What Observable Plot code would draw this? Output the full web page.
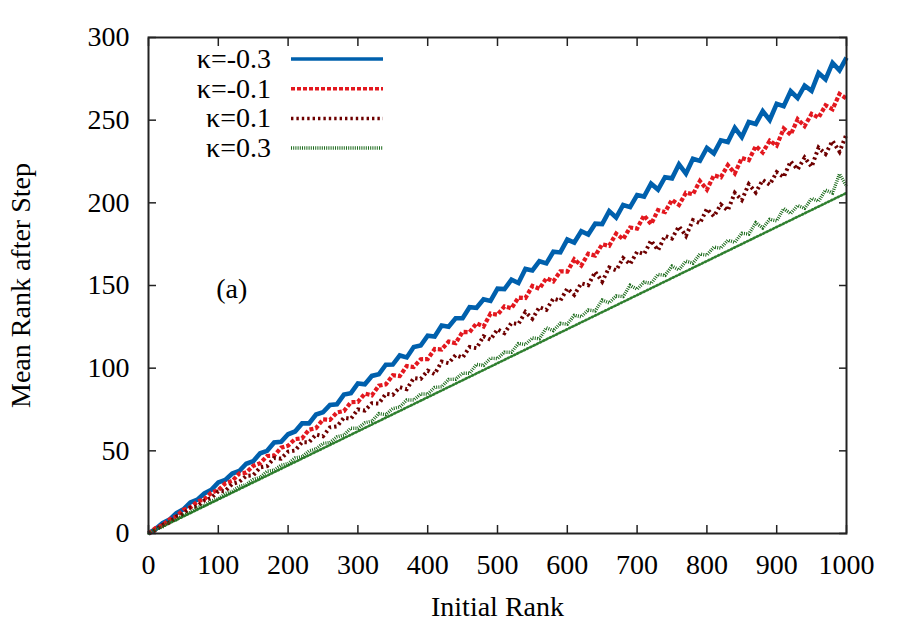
<!DOCTYPE html>
<html><head><meta charset="utf-8">
<script src="https://cdn.jsdelivr.net/npm/d3@7"></script>
<script src="https://cdn.jsdelivr.net/npm/@observablehq/plot@0.6"></script>
<style>
body{margin:0;background:#fff;}
#wrap{width:900px;height:630px;}
</style></head><body><div id="wrap"></div>
<script>
const ranks = [0,10,20,30,40,50,60,70,80,90,100,110,120,130,140,150,160,170,180,190,200,210,220,230,240,250,260,270,280,290,300,310,320,330,340,350,360,370,380,390,400,410,420,430,440,450,460,470,480,490,500,510,520,530,540,550,560,570,580,590,600,610,620,630,640,650,660,670,680,690,700,710,720,730,740,750,760,770,780,790,800,810,820,830,840,850,860,870,880,890,900,910,920,930,940,950,960,970,980,990,1000];

const kappaM03 = [0,2.7,6.3,8.4,12.3,14.6,18.8,20.4,24.3,26.4,
30.9,32.4,36.3,37.8,42.2,43.7,48.5,50.0,55.0,55.4,
60.0,61.7,66.6,66.6,72.0,73.3,77.8,78.2,84.0,84.9,
90.8,90.3,95.3,96.3,102.1,102.2,107.7,106.5,112.8,113.7,
119.7,119.2,125.8,125.1,130.2,130.2,136.9,136.5,141.7,140.7,
148.1,147.8,153.5,151.5,160.0,159.1,164.7,163.4,170.4,170.0,
177.8,176.0,182.8,180.8,187.4,187.1,195.0,191.1,198.7,197.4,
204.7,203.8,211.6,208.0,215.5,214.8,223.3,217.7,226.7,225.4,
233.2,229.9,237.8,236.8,245.3,239.8,248.9,247.7,255.4,250.1,
259.9,258.5,267.5,263.4,270.9,267.7,278.5,274.7,284.6,280.1,
287.8];

const kappaM01 = [0,3.3,5.0,8.4,10.4,14.3,15.8,19.3,20.8,24.7,
26.2,30.3,31.8,36.3,36.8,40.9,42.5,46.9,47.1,51.9,
53.1,57.1,57.6,62.8,63.7,69.0,68.7,73.2,74.1,79.4,
79.6,84.6,83.6,89.4,90.2,95.7,95.2,101.3,100.7,105.4,
105.5,111.6,111.3,116.1,115.1,122.0,121.8,127.1,125.2,133.0,
132.3,137.4,136.2,142.7,142.4,149.7,148.0,154.4,152.5,158.6,
158.4,165.8,162.1,169.2,168.1,174.9,174.0,181.4,178.0,185.1,
184.4,192.4,187.1,195.6,194.4,201.8,198.7,206.1,205.2,213.2,
208.0,216.6,215.5,222.8,217.8,227.1,225.8,234.3,230.5,237.6,
234.6,244.9,241.2,250.6,246.4,253.8,251.5,259.0,256.6,265.9,
263.0];

const kappaP01 = [0,1.9,5.2,6.7,10.3,11.8,15.7,16.4,20.0,21.5,
25.5,25.7,30.0,31.2,34.8,35.2,40.0,40.8,45.6,45.3,
49.5,50.2,55.2,55.2,59.9,58.8,64.2,64.8,70.0,69.4,
75.1,74.4,78.8,78.6,84.5,83.9,88.5,87.3,94.0,93.5,
98.5,96.4,104.0,103.0,107.9,106.4,112.8,112.1,119.3,117.2,
123.5,121.2,127.3,126.7,134.0,129.9,136.9,135.3,142.1,140.8,
148.2,144.3,151.3,150.2,158.3,152.3,160.9,159.2,166.6,162.9,
170.4,169.0,177.2,171.3,180.0,178.4,185.8,180.0,189.5,187.7,
196.4,191.8,199.0,195.4,206.0,201.7,211.3,206.3,213.8,211.0,
218.6,215.6,225.1,220.2,227.4,221.8,233.4,229.5,237.5,230.9,
241.6];

const kappaP03 = [0,2.4,4.0,7.1,8.4,11.1,12.7,15.8,16.9,19.7,
21.0,24.2,25.5,28.4,29.6,32.7,33.9,37.7,38.3,41.3,
42.3,45.7,46.4,49.9,51.1,54.5,55.0,58.5,59.5,63.7,
63.6,67.0,67.9,72.5,71.9,75.6,76.5,80.8,80.7,84.4,
84.3,88.4,88.7,93.2,93.3,97.0,96.9,102.3,101.7,106.0,
105.8,109.7,109.6,114.9,114.3,118.3,117.8,124.4,122.7,127.1,
126.6,132.0,131.1,135.2,134.6,141.2,139.5,143.7,143.3,150.1,
147.8,152.1,151.2,156.7,156.1,161.7,159.5,164.8,163.5,169.0,
168.4,173.2,172.6,177.4,176.1,181.6,181.1,188.0,184.8,190.0,
189.1,196.5,193.5,198.4,196.7,202.6,201.0,207.7,205.9,217.5,
210.0];

const fitRanks = [0,100,200,300,400,500,600,700,800,900,1000];
const fitP03 = [0,20.6,41.2,61.8,82.4,103.0,123.6,144.2,164.8,185.4,206.0];

const seriesNames = ["κ=-0.3","κ=-0.1","κ=0.1","κ=0.3"];
const seriesColors = ["#0060ad","#e3181f","#6e0000","#1c6b1c"];
const seriesDash = [null,"4,2","2.4,3","1,1.2"];
const seriesWidth = [4.6, 4.2, 4.0, 3.4];

const xTicks = [0,100,200,300,400,500,600,700,800,900,1000];
const yTicks = [0,50,100,150,200,250,300];

const annotX = [97];
const annotY = [148];
const annotText = ["(a)"];

const seriesValues = [kappaM03, kappaM01, kappaP01, kappaP03];
const lineData = seriesValues.map((vals, s) => ranks.map((r, i) => ({rank: r, value: vals[i], s})));
const fitData = fitRanks.map((r, i) => ({rank: r, value: fitP03[i]}));
const annot = annotText.map((t, i) => ({x: annotX[i], y: annotY[i], t}));

const FONT = '"Liberation Serif", "Times New Roman", serif';
const AX = "#222";

const marks = [];
marks.push(Plot.axisX(xTicks, {anchor:"bottom", tickSize:0, tickPadding:21, tickFormat:"d", fontSize:28, fill:"#000",
  label:"Initial Rank", labelAnchor:"center", labelOffset:82, labelArrow:"none"}));
marks.push(Plot.axisY(yTicks, {anchor:"left", tickSize:0, tickPadding:19, tickFormat:"d", fontSize:28, fill:"#000",
  label:"Mean Rank after Step", labelAnchor:"center", labelOffset:138, labelArrow:"none"}));
marks.push(Plot.axisX(xTicks, {anchor:"bottom", tickSize:-8, fill:"none", stroke:AX, strokeWidth:1.5, label:null}));
marks.push(Plot.axisX(xTicks, {anchor:"top", tickSize:-8, fill:"none", stroke:AX, strokeWidth:1.5, label:null}));
marks.push(Plot.axisY(yTicks, {anchor:"left", tickSize:-8, fill:"none", stroke:AX, strokeWidth:1.5, label:null}));
marks.push(Plot.axisY(yTicks, {anchor:"right", tickSize:-8, fill:"none", stroke:AX, strokeWidth:1.5, label:null}));

// smooth dotted line for kappa=0.3, beneath the noisy curves
marks.push(Plot.line(fitData, {x:"rank", y:"value", stroke:"#2f7f2f", strokeWidth:2.6, strokeDasharray:"1.4,2.2"}));
lineData.forEach((d, s) => {
  marks.push(Plot.line(d, {x:"rank", y:"value", stroke:seriesColors[s], strokeWidth:seriesWidth[s],
    strokeDasharray: seriesDash[s] ?? undefined, strokeLinejoin:"miter", strokeMiterlimit:3, strokeLinecap:"butt"}));
});

marks.push(Plot.text(annot, {x:"x", y:"y", text:"t", textAnchor:"start", fontSize:28, fill:"#000"}));
marks.push(Plot.frame({stroke:AX, strokeWidth:2}));

const chart = Plot.plot({
  width:900, height:630,
  marginLeft:148, marginRight:54, marginTop:37, marginBottom:97,
  style:{fontFamily:FONT, fontSize:"28px", background:"#fff", color:"#000"},
  x:{domain:[0,1000]},
  y:{domain:[0,300]},
  marks
});

const svg = d3.select(chart);
const lg = svg.append("g").attr("font-family", FONT).attr("font-size", 28);
seriesNames.forEach((name, i) => {
  const cy = 59 + i * 29.7;
  lg.append("text").attr("x", 271).attr("y", cy).attr("dy", "0.32em")
    .attr("text-anchor", "end").attr("fill", "#000").text(name);
  const ln = lg.append("line").attr("x1", 291).attr("x2", 383).attr("y1", cy).attr("y2", cy)
    .attr("stroke", seriesColors[i]).attr("stroke-width", 3.5);
  if (seriesDash[i]) ln.attr("stroke-dasharray", seriesDash[i]);
});

document.getElementById("wrap").appendChild(chart);
</script>
</body></html>
